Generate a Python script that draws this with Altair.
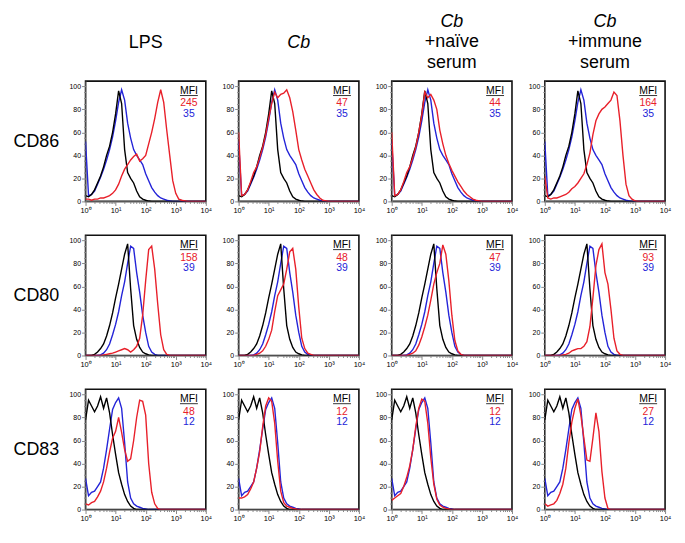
import altair as alt
import pandas as pd

# log10 positions of the histogram channels (10^0 .. 10^4)
LOG_X = [i / 10 for i in range(41)]

MARKERS = ["CD86", "CD80", "CD83"]
HEADER_MAIN = ["LPS", "Cb", "Cb", "Cb"]
HEADER_SUB = [[" "], [" "], ["+naïve", "serum"], ["+immune", "serum"]]
HEADER_ITALIC = [False, True, True, True]

# ---- CD86 ----
BLACK_CD86 = [5, 4, 6, 10, 16, 22, 30, 40, 48, 60, 76, 96, 85, 45, 25, 20, 16, 9, 4, 2,
              1, 0.3, 0, 0, 0, 0, 0, 0, 0, 0, 0, 0, 0, 0, 0, 0, 0, 0, 0, 0, 0]
BLUE_CD86 = [52, 5, 6, 9, 15, 21, 28, 36, 45, 56, 70, 86, 97, 88, 68, 55, 45, 40, 36, 32,
             24, 18, 12, 8, 5, 3, 2, 1, 0.5, 0, 0, 0, 0, 0, 0, 0, 0, 0, 0, 0, 0]
RED_CD86_LPS = [2, 2, 1, 2, 2, 3, 3, 4, 5, 7, 10, 15, 22, 28, 32, 36, 39, 41, 35, 37,
                40, 50, 60, 72, 86, 97, 86, 62, 40, 18, 7, 2, 1, 0.5, 0, 0, 0, 0, 0, 0, 0]
RED_CD86_CB = [60, 5, 6, 10, 17, 25, 30, 38, 47, 58, 72, 85, 95, 90, 93, 94, 97, 90, 78, 62,
               45, 36, 28, 22, 16, 10, 6, 3, 1, 0.5, 0, 0, 0, 0, 0, 0, 0, 0, 0, 0, 0]
RED_CD86_NAIVE = [60, 5, 6, 10, 17, 25, 30, 38, 47, 60, 75, 95, 90, 93, 88, 80, 62, 50, 40, 33,
                  27, 22, 17, 13, 9, 6, 4, 2, 1, 0.5, 0, 0, 0, 0, 0, 0, 0, 0, 0, 0, 0]
RED_CD86_IMMUNE = [22, 3, 2, 3, 3, 4, 5, 6, 8, 11, 13, 16, 20, 24, 32, 42, 58, 70, 76, 80,
                   82, 85, 88, 95, 92, 70, 40, 15, 5, 2, 0.5, 0, 0, 0, 0, 0, 0, 0, 0, 0, 0]

# ---- CD80 ----
BLACK_CD80 = [0, 0, 0, 1, 3, 6, 10, 17, 26, 37, 50, 62, 75, 88, 97, 58, 26, 14, 7, 3,
              1.5, 0.5, 0, 0, 0, 0, 0, 0, 0, 0, 0, 0, 0, 0, 0, 0, 0, 0, 0, 0, 0]
BLUE_CD80 = [0, 0, 0, 0, 0, 0.5, 2, 5, 10, 18, 27, 38, 52, 64, 80, 95, 93, 72, 55, 35,
             20, 8, 3, 1, 0, 0, 0, 0, 0, 0, 0, 0, 0, 0, 0, 0, 0, 0, 0, 0, 0]
RED_CD80_LPS = [0, 0, 0, 0, 0, 0, 0.5, 1, 1.5, 2, 3, 4, 5, 6, 5, 3, 5, 8, 15, 35,
                65, 92, 95, 75, 45, 18, 5, 1, 0, 0, 0, 0, 0, 0, 0, 0, 0, 0, 0, 0, 0]
RED_CD80_CB = [0, 0, 0, 0, 0, 0, 1, 2, 4, 8, 14, 22, 38, 52, 57, 62, 75, 90, 93, 75,
               42, 15, 6, 2, 1, 0, 0, 0, 0, 0, 0, 0, 0, 0, 0, 0, 0, 0, 0, 0, 0]
RED_CD80_NAIVE = [0, 0, 0, 0, 0, 0, 1, 2, 4, 9, 16, 25, 35, 48, 62, 72, 80, 96, 88, 65,
                  35, 13, 4, 1, 0, 0, 0, 0, 0, 0, 0, 0, 0, 0, 0, 0, 0, 0, 0, 0, 0]
RED_CD80_IMMUNE = [0, 0, 0, 0, 0, 0, 0.5, 1, 2, 4, 5, 6, 6, 8, 12, 25, 50, 78, 92, 97,
                   72, 62, 40, 15, 4, 1, 0, 0, 0, 0, 0, 0, 0, 0, 0, 0, 0, 0, 0, 0, 0]

# ---- CD83 ----
BLACK_CD83 = [78, 95, 90, 85, 90, 98, 88, 97, 84, 65, 48, 32, 22, 13, 7, 3, 1, 0, 0, 0,
              0, 0, 0, 0, 0, 0, 0, 0, 0, 0, 0, 0, 0, 0, 0, 0, 0, 0, 0, 0, 0]
BLUE_CD83 = [27, 12, 15, 16, 20, 24, 36, 52, 70, 87, 93, 97, 88, 58, 24, 10, 5, 3, 2, 1,
             0.5, 0, 0, 0, 0, 0, 0, 0, 0, 0, 0, 0, 0, 0, 0, 0, 0, 0, 0, 0, 0]
RED_CD83_LPS = [5, 4, 6, 7, 11, 16, 24, 36, 50, 62, 68, 80, 67, 52, 42, 44, 60, 80, 95, 94,
                82, 40, 15, 5, 1, 0, 0, 0, 0, 0, 0, 0, 0, 0, 0, 0, 0, 0, 0, 0, 0]
RED_CD83_CB = [10, 10, 11, 13, 18, 24, 36, 50, 72, 90, 97, 94, 75, 42, 16, 6, 3, 2, 1, 0.5,
               0, 0, 0, 0, 0, 0, 0, 0, 0, 0, 0, 0, 0, 0, 0, 0, 0, 0, 0, 0, 0]
RED_CD83_NAIVE = [8, 10, 12, 14, 20, 28, 38, 52, 72, 88, 96, 94, 75, 45, 22, 9, 4, 2, 1, 0.5,
                  0, 0, 0, 0, 0, 0, 0, 0, 0, 0, 0, 0, 0, 0, 0, 0, 0, 0, 0, 0, 0]
RED_CD83_IMMUNE = [5, 3, 4, 5, 8, 14, 22, 36, 58, 76, 88, 96, 82, 62, 43, 42, 62, 84, 68, 33,
                   10, 1, 0, 0, 0, 0, 0, 0, 0, 0, 0, 0, 0, 0, 0, 0, 0, 0, 0, 0, 0]

MFI_RED_CD86 = [245, 47, 44, 164]
MFI_RED_CD80 = [158, 48, 47, 93]
MFI_RED_CD83 = [48, 12, 12, 27]
MFI_BLUE = [35, 39, 12]

BLACK = [BLACK_CD86, BLACK_CD80, BLACK_CD83]
BLUE = [BLUE_CD86, BLUE_CD80, BLUE_CD83]
RED = [
    [RED_CD86_LPS, RED_CD86_CB, RED_CD86_NAIVE, RED_CD86_IMMUNE],
    [RED_CD80_LPS, RED_CD80_CB, RED_CD80_NAIVE, RED_CD80_IMMUNE],
    [RED_CD83_LPS, RED_CD83_CB, RED_CD83_NAIVE, RED_CD83_IMMUNE],
]
MFI_RED = [MFI_RED_CD86, MFI_RED_CD80, MFI_RED_CD83]

RED_C = "#e8202a"
BLUE_C = "#2424d8"
FONT = "Liberation Sans"
W = 121
H = 121

X_TICKS = [m * 10 ** e for e in range(4) for m in range(1, 10)] + [10000]
Y_TICKS = list(range(0, 101, 5))

x_label_expr = ("datum.value == 1 ? '10⁰' : datum.value == 10 ? '10¹' : "
                "datum.value == 100 ? '10²' : datum.value == 1000 ? '10³' : "
                "datum.value == 10000 ? '10⁴' : ''")


def x_axis():
    return alt.Axis(
        values=X_TICKS, labelExpr=x_label_expr, labelOverlap=False, labelFlush=False,
        tickSize={"condition": {"test": "indexof([1,10,100,1000,10000], datum.value) >= 0",
                                "value": 4}, "value": 2},
        title=None, grid=False, labelFontSize=7.5, labelPadding=1,
    )


def y_axis(ci, ri):
    kw = dict(
        values=Y_TICKS, labelExpr="datum.value % 20 == 0 ? datum.label : ''",
        labelOverlap=False, labelFlush=False,
        tickSize={"condition": {"test": "datum.value % 20 == 0", "value": 4}, "value": 2},
        grid=False, labelFontSize=7, labelPadding=1,
    )
    if ci == 0:
        kw.update(title=MARKERS[ri], titleAngle=0, titleX=-50, titleY=H / 2,
                  titleAlign="center", titleBaseline="middle", titleFontSize=18,
                  titleFont=FONT, titleFontWeight="normal", titleColor="black")
    else:
        kw.update(title=None)
    return alt.Axis(**kw)


def curve_df(vals):
    return pd.DataFrame({"x": [10 ** lx for lx in LOG_X], "y": vals})


def panel(ri, ci):
    xs = alt.Scale(type="log", domain=[1, 10000], nice=False)
    ys = alt.Scale(domain=[0, 104.5], nice=False, zero=True)
    layers = []
    for vals, col in [(BLUE[ri], BLUE_C), (BLACK[ri], "black"), (RED[ri][ci], RED_C)]:
        layers.append(
            alt.Chart(curve_df(vals)).mark_line(color=col, strokeWidth=1.4, clip=True).encode(
                x=alt.X("x:Q", scale=xs, axis=x_axis()),
                y=alt.Y("y:Q", scale=ys, axis=y_axis(ci, ri)),
            )
        )
    mfi = pd.DataFrame({"label": ["MFI"], "red": [str(MFI_RED[ri][ci])],
                        "blue": [str(MFI_BLUE[ri])]})
    tbase = alt.Chart(mfi)
    layers.append(tbase.mark_text(font=FONT, fontSize=10.5, color="black",
                                  baseline="middle", align="center").encode(
        x=alt.value(W - 17), y=alt.value(9.5), text="label:N"))
    layers.append(tbase.mark_rule(color="black", strokeWidth=0.8).encode(
        x=alt.value(W - 26), x2=alt.value(W - 8), y=alt.value(14.5)))
    layers.append(tbase.mark_text(font=FONT, fontSize=10.5, color=RED_C,
                                  baseline="middle", align="center").encode(
        x=alt.value(W - 17), y=alt.value(22.5), text="red:N"))
    layers.append(tbase.mark_text(font=FONT, fontSize=10.5, color=BLUE_C,
                                  baseline="middle", align="center").encode(
        x=alt.value(W - 17), y=alt.value(33), text="blue:N"))
    ch = alt.layer(*layers).properties(
        width=W, height=H,
        view=alt.ViewBackground(stroke="#111111", strokeWidth=1.6),
    )
    if ri == 0:
        ch = ch.properties(title=alt.TitleParams(
            text=HEADER_MAIN[ci], subtitle=HEADER_SUB[ci], anchor="middle",
            font=FONT, fontSize=18, fontWeight="normal",
            fontStyle="italic" if HEADER_ITALIC[ci] else "normal", color="black",
            lineHeight=21.5, subtitleFont=FONT, subtitleFontSize=18,
            subtitleFontStyle="normal", subtitleFontWeight="normal",
            subtitleColor="black", subtitleLineHeight=21.5, subtitlePadding=2,
            offset=9,
        ))
    return ch


panels = [panel(ri, ci) for ri in range(3) for ci in range(4)]
chart = alt.concat(*panels, columns=4, spacing={"row": 34, "column": 33},
                   bounds="flush").properties(
    padding={"left": 4, "top": 2, "right": 5, "bottom": 5}
).configure_view(
    stroke="#111111", strokeWidth=1.6
).configure_axis(
    labelFont=FONT, labelColor="#333333", tickColor="black", domainColor="black",
    domainWidth=1.6, tickWidth=0.8,
).configure(background="white")

chart.save("out.html", embed_options={"renderer": "svg", "actions": False})
